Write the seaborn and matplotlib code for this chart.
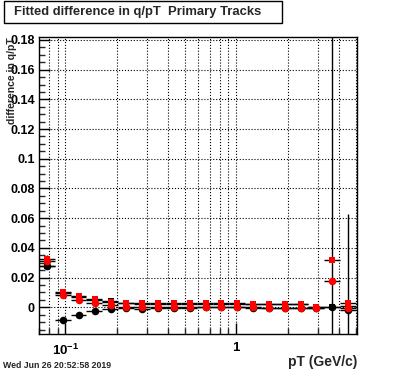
import numpy as np
import pandas as pd
import matplotlib
matplotlib.use("Agg")
import matplotlib.pyplot as plt
import matplotlib.ticker as mticker
import seaborn as sns

sns.set_style("ticks")
plt.rcParams["font.family"] = ["Liberation Sans", "DejaVu Sans"]
plt.rcParams["font.weight"] = "bold"
plt.rcParams["mathtext.fontset"] = "custom"
plt.rcParams["mathtext.rm"] = "Liberation Sans:bold"
plt.rcParams["mathtext.bf"] = "Liberation Sans:bold"

# pT bins (GeV/c)
pt_edges = [0.070, 0.0867, 0.1073, 0.1328, 0.1644, 0.2035, 0.252, 0.312, 0.386, 0.478,
            0.591, 0.732, 0.906, 1.122, 1.389, 1.719, 2.128, 2.634, 3.261, 4.037, 4.998]
pt_centers = [0.0783, 0.0970, 0.1200, 0.1486, 0.1840, 0.2278, 0.282, 0.349, 0.432, 0.535,
              0.662, 0.819, 1.014, 1.255, 1.554, 1.924, 2.381, 2.948, 3.649, 4.518]

# fitted differences, four series
red_square = [0.0326, 0.0102, 0.0073, 0.0055, 0.0035, 0.0032, 0.0028, 0.0026, 0.0026, 0.0026,
              0.0026, 0.0026, 0.0026, 0.0025, 0.0024, 0.0023, 0.0022, 0.0000, 0.0320, 0.0028]
red_square_err = [0.0025, 0.0008, 0.0006, 0.0005, 0.0005, 0.0005, 0.0005, 0.0005, 0.0005, 0.0005,
                  0.0005, 0.0005, 0.0005, 0.0005, 0.0005, 0.0005, 0.0006, 0.0008, 0.0010, 0.0015]
red_circle = [0.0310, 0.0082, 0.0046, 0.0028, 0.0015, 0.0001, 0.0000, 0.0000, 0.0001, 0.0001,
              0.0001, 0.0001, 0.0001, 0.0000, -0.0002, -0.0003, -0.0004, -0.0005, 0.0180, -0.0005]
red_circle_err = [0.0010, 0.0008, 0.0006, 0.0005, 0.0005, 0.0005, 0.0005, 0.0005, 0.0005, 0.0005,
                  0.0005, 0.0005, 0.0005, 0.0005, 0.0005, 0.0005, 0.0006, 0.0008, 0.0010, 0.0015]
black_square = [0.0281, 0.0095, 0.0068, 0.0052, 0.0044, 0.0030, 0.0024, 0.0022, 0.0022, 0.0022,
                0.0022, 0.0022, 0.0022, 0.0021, 0.0020, 0.0020, 0.0019, 0.0000, 0.0001, 0.0010]
black_square_err = [0.0010, 0.0008, 0.0006, 0.0005, 0.0005, 0.0005, 0.0005, 0.0005, 0.0005, 0.0005,
                    0.0005, 0.0005, 0.0005, 0.0005, 0.0005, 0.0005, 0.0006, 0.0008, 0.3000, 0.0015]
black_circle = [0.0275, -0.0084, -0.0050, -0.0024, -0.0012, -0.0005, -0.0010, -0.0004, -0.0002, -0.0002,
                -0.0001, -0.0001, -0.0001, -0.0002, -0.0003, -0.0004, -0.0005, -0.0006, 0.0000, -0.0017]
black_circle_err = [0.0010, 0.0008, 0.0006, 0.0005, 0.0005, 0.0005, 0.0005, 0.0005, 0.0005, 0.0005,
                    0.0005, 0.0005, 0.0005, 0.0005, 0.0005, 0.0005, 0.0006, 0.0008, 0.0020, 0.0645]

pt = np.array(pt_centers)
edges = np.array(pt_edges)
xerr = [pt - edges[:-1], edges[1:] - pt]

series = [
    ("black circle", black_circle, black_circle_err, "black", "o", 30),
    ("black square", black_square, black_square_err, "black", "s", 24),
    ("red circle", red_circle, red_circle_err, "red", "o", 30),
    ("red square", red_square, red_square_err, "red", "s", 24),
]

fig = plt.figure(figsize=(3.96, 3.72), dpi=100)
ax = fig.add_axes([39 / 396, 1 - 334 / 372, 318 / 396, 297 / 372])

for name, vals, errs, color, marker, size in series:
    df = pd.DataFrame({"pt": pt, "diff": vals})
    ax.errorbar(df["pt"], df["diff"], xerr=xerr, yerr=errs, fmt="none",
                ecolor="black", elinewidth=1.0, capsize=0, zorder=2)
    sns.scatterplot(data=df, x="pt", y="diff", color=color, marker=marker, s=size,
                    edgecolor=color, linewidth=0, ax=ax, zorder=3)

ax.set_xscale("log")
ax.set_xlim(0.07, 5.1)
ax.set_ylim(-0.018, 0.182)

ax.yaxis.set_major_locator(mticker.MultipleLocator(0.02))
ax.yaxis.set_minor_locator(mticker.MultipleLocator(0.005))
ax.yaxis.set_major_formatter(mticker.FuncFormatter(lambda v, p: "0" if abs(v) < 1e-9 else f"{v:g}"))
ax.xaxis.set_major_locator(mticker.FixedLocator([0.1, 1.0]))
ax.xaxis.set_major_formatter(mticker.FixedFormatter([r"$10^{-1}$", "1"]))
ax.xaxis.set_minor_locator(mticker.LogLocator(base=10, subs=np.arange(2, 10)))
ax.xaxis.set_minor_formatter(mticker.NullFormatter())

ax.tick_params(axis="both", which="major", direction="in", length=8, width=1,
               top=False, right=False, colors="black")
ax.tick_params(axis="y", which="major", labelsize=9, pad=3)
ax.tick_params(axis="x", which="major", labelsize=9.5, pad=6)
ax.tick_params(axis="both", which="minor", direction="in", length=4, width=1,
               top=False, right=False)

ax.grid(True, which="major", axis="both", color="black", linestyle=":", linewidth=0.8)
ax.grid(True, which="minor", axis="x", color="black", linestyle=":", linewidth=0.8)
for s in ax.spines.values():
    s.set_color("black")
    s.set_linewidth(1.0)

ax.set_xlabel("")
ax.set_ylabel("difference in q/pT", fontsize=7.5, fontweight="bold", loc="top")
ax.yaxis.set_label_coords(-0.068, 1.0)

fig.text(357 / 396, 1 - 362 / 372, "pT (GeV/c)", ha="right", va="center",
         fontsize=10, fontweight="bold")
fig.text(3 / 396, 1 - 366 / 372, "Wed Jun 26 20:52:58 2019", ha="left", va="center",
         fontsize=6.3, fontweight="bold")
fig.text(14 / 396, 1 - 12 / 372, "Fitted difference in q/pT  Primary Tracks", ha="left",
         va="center", fontsize=9.4, fontweight="bold")
fig.patches.append(plt.Rectangle((3.5 / 396, 1 - 23 / 372), 278.5 / 396, 22 / 372,
                                 transform=fig.transFigure, facecolor="white",
                                 edgecolor="black", linewidth=1.0, zorder=-1))

fig.savefig("out.png", dpi=100)
